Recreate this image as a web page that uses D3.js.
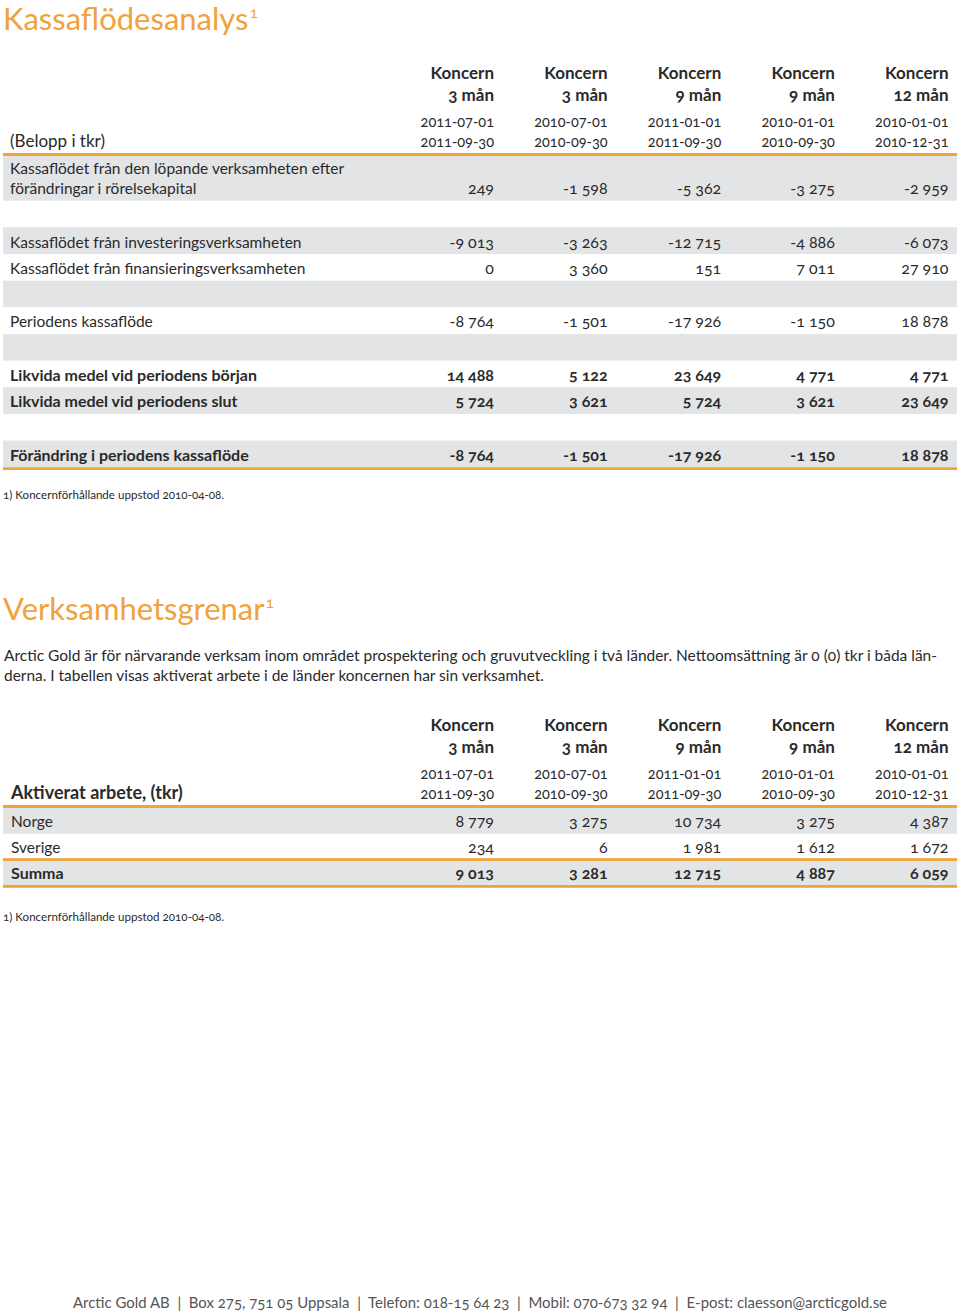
<!DOCTYPE html>
<html><head><meta charset="utf-8">
<script src="https://cdn.jsdelivr.net/npm/d3@7"></script>
<style>
html,body{margin:0;padding:0;background:#fff;}
svg text{font-family:Lato,"Open Sans",sans-serif;font-feature-settings:"onum";fill:#2a2a2a;}
</style></head>
<body><svg id="c" width="960" height="1313"></svg>
<script>
// ---------- data ----------
const colHead1 = ["Koncern","Koncern","Koncern","Koncern","Koncern"];
const colHead2 = ["3 mån","3 mån","9 mån","9 mån","12 mån"];
const colStart = ["2011-07-01","2010-07-01","2011-01-01","2010-01-01","2010-01-01"];
const colEnd   = ["2011-09-30","2010-09-30","2011-09-30","2010-09-30","2010-12-31"];

const cashLabels = [
  ["Kassaflödet från den löpande verksamheten efter","förändringar i rörelsekapital"],
  [""],
  ["Kassaflödet från investeringsverksamheten"],
  ["Kassaflödet från finansieringsverksamheten"],
  [""],
  ["Periodens kassaflöde"],
  [""],
  ["Likvida medel vid periodens början"],
  ["Likvida medel vid periodens slut"],
  [""],
  ["Förändring i periodens kassaflöde"]
];
const cashValues = [
  [249,-1598,-5362,-3275,-2959],
  null,
  [-9013,-3263,-12715,-4886,-6073],
  [0,3360,151,7011,27910],
  null,
  [-8764,-1501,-17926,-1150,18878],
  null,
  [14488,5122,23649,4771,4771],
  [5724,3621,5724,3621,23649],
  null,
  [-8764,-1501,-17926,-1150,18878]
];
const cashTotals = ["Likvida medel vid periodens början","Likvida medel vid periodens slut","Förändring i periodens kassaflöde"];

const segLabels = ["Norge","Sverige","Summa"];
const segValues = [
  [8779,3275,10734,3275,4387],
  [234,6,1981,1612,1672],
  [9013,3281,12715,4887,6059]
];

const title1 = "Kassaflödesanalys";
const title2 = "Verksamhetsgrenar";
const unit1 = "(Belopp i tkr)";
const unit2 = "Aktiverat arbete, (tkr)";
const footnote = "1) Koncernförhållande uppstod 2010-04-08.";
const para = ["Arctic Gold är för närvarande verksam inom området prospektering och gruvutveckling i två länder. Nettoomsättning är 0 (0) tkr i båda län-",
              "derna. I tabellen visas aktiverat arbete i de länder koncernen har sin verksamhet."];
const footer = "Arctic Gold AB  |  Box 275, 751 05 Uppsala  |  Telefon: 018-15 64 23  |  Mobil: 070-673 32 94  |  E-post: claesson@arcticgold.se";

// ---------- drawing ----------
const ORANGE = "#EFA43A", TITLE = "#F0A23C", GRAY = "#E3E4E6";
const svg = d3.select("#c");
const fmt = d3.formatLocale({decimal:",", thousands:"\u2005", grouping:[3], currency:["","kr"], minus:"-"}).format(",d");
const x = d3.scaleLinear().domain([0,4]).range([494,948.5]);
const L = 3, R = 957;

function title(txt, y){
  const t = svg.append("text").attr("x",3).attr("y",y).style("font-size","31px").style("fill",TITLE).style("font-weight",400);
  t.append("tspan").text(txt);
  t.append("tspan").attr("dx",1).attr("dy",-12).style("font-size","16px").text("1");
}
function header(y0){
  const g = svg.append("g");
  g.selectAll(".h1").data(colHead1).join("text").attr("x",(d,i)=>x(i)).attr("y",y0)
    .attr("text-anchor","end").style("font-weight",700).style("font-size","17px").text(d=>d);
  g.selectAll(".h2").data(colHead2).join("text").attr("x",(d,i)=>x(i)).attr("y",y0+22)
    .attr("text-anchor","end").style("font-weight",700).style("font-size","17px").text(d=>d);
  g.selectAll(".h3").data(colStart).join("text").attr("x",(d,i)=>x(i)).attr("y",y0+48)
    .attr("text-anchor","end").style("font-size","14.5px").text(d=>d);
  g.selectAll(".h4").data(colEnd).join("text").attr("x",(d,i)=>x(i)).attr("y",y0+68)
    .attr("text-anchor","end").style("font-size","14.5px").text(d=>d);
}
function hline(y,h){ svg.append("rect").attr("x",L).attr("y",y).attr("width",R-L).attr("height",h).attr("fill",ORANGE); }

// Table 1
title(title1, 30);
header(79);
svg.append("text").attr("x",10).attr("y",147).style("font-size","17px").text(unit1);

const firstH = 44.7, rowH = 26.65, top1 = 156;
const yRow = d3.scaleLinear().domain([1,cashLabels.length]).range([top1+firstH, top1+firstH+rowH*(cashLabels.length-1)]);
const rowTop = i => i===0 ? top1 : yRow(i);
const rowBot = i => i===0 ? top1+firstH : yRow(i+1);
const rows1 = cashLabels.map((lab,i)=>({lab, vals:cashValues[i], i, bold: cashTotals.includes(lab[0])}));

svg.append("g").selectAll("rect").data(rows1.filter(r=>r.i%2===0)).join("rect")
  .attr("x",L).attr("width",R-L).attr("y",r=>rowTop(r.i)).attr("height",r=>rowBot(r.i)-rowTop(r.i)).attr("fill",GRAY);
hline(153,3);
hline(rowBot(cashLabels.length-1),2.8);

const rg = svg.append("g").selectAll("g").data(rows1).join("g");
rg.each(function(r){
  const g = d3.select(this);
  const base = rowBot(r.i) - 6.5;
  r.lab.forEach((s,k)=>{
    g.append("text").attr("x",10).attr("y", base - (r.lab.length-1-k)*20)
     .style("font-size", r.bold?"16px":"15.5px").style("font-weight", r.bold?700:400).text(s);
  });
  if(r.vals){
    g.selectAll(".v").data(r.vals).join("text").attr("x",(d,j)=>x(j)).attr("y",base)
     .attr("text-anchor","end").style("font-size","16px").style("font-weight", r.bold?700:400).text(d=>fmt(d));
  }
});
svg.append("text").attr("x",3).attr("y",499).style("font-size","11.6px").text(footnote);

// Section 2
title(title2, 620);
para.forEach((s,k)=>{
  svg.append("text").attr("x",4).attr("y",661+k*19.5).style("font-size","15px")
    .attr("textLength", k===0?933:540).attr("lengthAdjust","spacingAndGlyphs").text(s);
});
header(731);
svg.append("text").attr("x",11).attr("y",799).style("font-size","18px").style("font-weight",700).text(unit2);

const yS = d3.scaleBand().domain(segLabels).range([808,885.5]).padding(0);
svg.append("g").selectAll("rect").data(segLabels.filter((d,i)=>i%2===0)).join("rect")
  .attr("x",L).attr("width",R-L).attr("y",d=>yS(d)).attr("height",yS.bandwidth()).attr("fill",GRAY);
hline(805,3); hline(yS("Summa")-1.5,2.8); hline(885,2.8);
const sg = svg.append("g").selectAll("g").data(segLabels).join("g");
sg.each(function(lab,i){
  const g = d3.select(this);
  const base = yS(lab)+yS.bandwidth()-7;
  const bold = lab==="Summa";
  g.append("text").attr("x",11).attr("y",base).style("font-size",bold?"16px":"15.5px").style("font-weight",bold?700:400).text(lab);
  g.selectAll(".v").data(segValues[i]).join("text").attr("x",(d,j)=>x(j)).attr("y",base)
    .attr("text-anchor","end").style("font-size","16px").style("font-weight",bold?700:400).text(d=>fmt(d));
});
svg.append("text").attr("x",3).attr("y",921).style("font-size","11.6px").text(footnote);

// footer
svg.append("text").attr("x",73).attr("y",1308).style("font-size","15px").style("fill","#555")
  .attr("textLength",814).attr("lengthAdjust","spacingAndGlyphs").attr("xml:space","preserve").text(footer);
</script></body></html>
